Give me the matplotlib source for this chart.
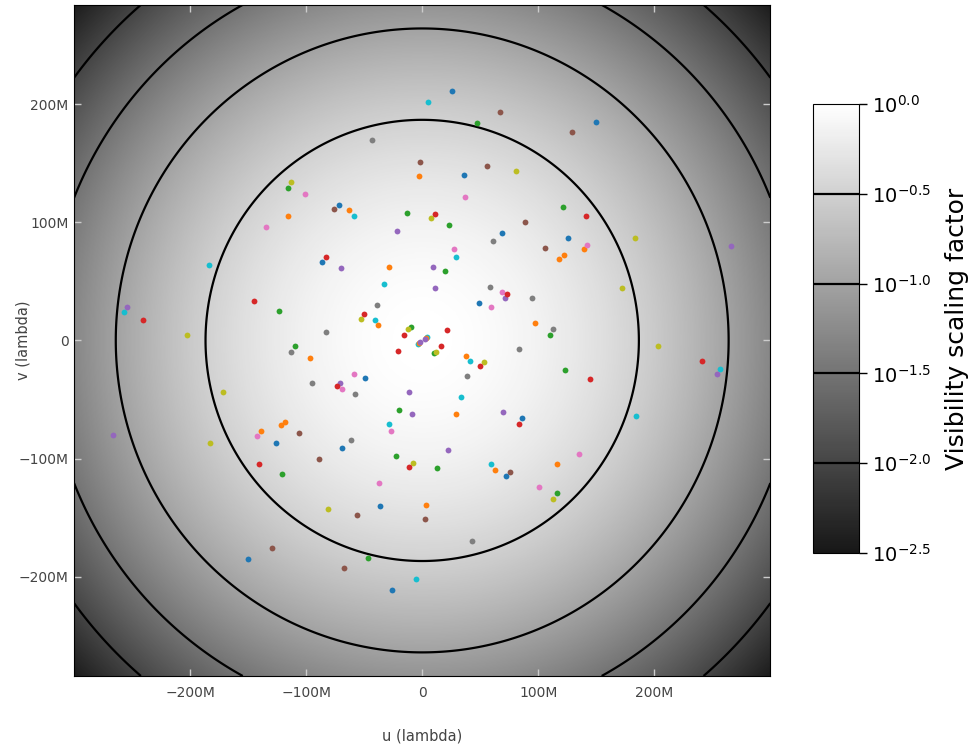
import numpy as np
import matplotlib.pyplot as plt
from matplotlib.colors import LinearSegmentedColormap
from matplotlib.ticker import FuncFormatter

# uv samples in millions of wavelengths (half plane, the other half is (-u,-v))
u_half = [26, 5, 67, 47, -43, -2, 56, 81, -3, 36, 150, 129,
          -116, -113, -101, -116, -135, -184, -145, -123, -254, -257, -241, -203,
          37, -72, -76, -63, -59, -13, 11, 8, 23, 89, -22, 69, 61, 27, 29,
          -83, -86, -70, -29, 9, 20, -33, 11, 58, 69, 73, 71, 49, 59, 95, 97,
          -39, -50, -53, -41, -38, -83, -12, -10, -16, 21, 2, 3, 4,
          121, 141, 183, 126, 106, 142, 139, 122, 118, 266, 172, 113, 110]
v_half = [211, 202, 193, 184, 170, 151, 148, 143, 139, 140, 185, 176,
          129, 134, 124, 105, 96, 64, 33, 25, 28, 24, 17, 5,
          121, 115, 111, 110, 105, 108, 107, 104, 98, 100, 93, 91, 84, 77, 71,
          71, 66, 61, 62, 62, 59, 48, 44, 45, 41, 39, 36, 32, 28, 36, 15,
          30, 22, 18, 17, 13, 7, 10, 11, 5, 9, 1, 2, 3,
          113, 105, 87, 87, 78, 81, 77, 72, 69, 80, 44, 10, 5]
c_half = ['blue', 'cyan', 'brown', 'green', 'gray', 'brown', 'brown', 'olive', 'orange', 'blue', 'blue', 'brown',
          'green', 'olive', 'pink', 'orange', 'pink', 'cyan', 'red', 'green', 'purple', 'cyan', 'red', 'olive',
          'pink', 'blue', 'brown', 'orange', 'cyan', 'green', 'red', 'olive', 'green', 'brown', 'purple', 'blue', 'gray', 'pink', 'cyan',
          'red', 'blue', 'purple', 'orange', 'purple', 'green', 'cyan', 'purple', 'gray', 'pink', 'red', 'purple', 'blue', 'pink', 'gray', 'orange',
          'gray', 'red', 'olive', 'cyan', 'orange', 'gray', 'olive', 'green', 'red', 'red', 'purple', 'orange', 'cyan',
          'green', 'red', 'olive', 'blue', 'brown', 'pink', 'orange', 'orange', 'orange', 'purple', 'olive', 'gray', 'green']

taper_width = 174            # M lambda, exp(-(r/w)^2)
levels = [-2.0, -1.5, -1.0, -0.5]
cbar_ticks = [-2.5, -2.0, -1.5, -1.0, -0.5, 0.0]
u_lim = (-300, 300)
v_lim = (-284, 284)

u_all = np.array(u_half + [-x for x in u_half])
v_all = np.array(v_half + [-x for x in v_half])
c_all = c_half + c_half

fig = plt.figure(figsize=(9.78, 7.49), dpi=100)
ax = fig.add_axes([0.0757, 0.0975, 0.712, 0.896])
cax = fig.add_axes([0.831, 0.2617, 0.047, 0.5995])

gu = np.linspace(u_lim[0], u_lim[1], 600)
gv = np.linspace(v_lim[0], v_lim[1], 600)
U, V = np.meshgrid(gu, gv)
logvis = -((U**2 + V**2) / taper_width**2) / np.log(10)

cmap = LinearSegmentedColormap.from_list('grey', [(0.09, 0.09, 0.09), (1, 1, 1)])
im = ax.imshow(logvis, extent=[u_lim[0], u_lim[1], v_lim[0], v_lim[1]], origin='lower',
               cmap=cmap, vmin=-2.5, vmax=0, aspect='auto', interpolation='bilinear')
cs = ax.contour(U, V, logvis, levels=levels, colors='k', linewidths=1.6, linestyles='solid')

for key in sorted(set(c_all)):
    idx = [i for i, c in enumerate(c_all) if c == key]
    ax.plot(u_all[idx], v_all[idx], 'o', color='tab:' + key, ms=4.2, mew=0)

ax.set_xlim(u_lim)
ax.set_ylim(v_lim)
ax.set_xticks([-200, -100, 0, 100, 200])
ax.set_yticks([-200, -100, 0, 100, 200])
fmt = FuncFormatter(lambda x, p: '0' if x == 0 else ('%dM' % x).replace('-', '\u2212'))
ax.xaxis.set_major_formatter(fmt)
ax.yaxis.set_major_formatter(fmt)
ax.tick_params(direction='in', length=5, width=1, color='#cccccc', top=True, right=True,
               labelsize=10, labelcolor='#444444')
ax.tick_params(axis='x', pad=7)
ax.tick_params(axis='y', pad=4)
ax.set_xlabel('u (lambda)', fontsize=10.5, color='#444444')
ax.set_ylabel('v (lambda)', fontsize=10.5, color='#444444')
ax.xaxis.set_label_coords(0.5, -0.079)
ax.yaxis.set_label_coords(-0.063, 0.5)

cbar = fig.colorbar(im, cax=cax, ticks=cbar_ticks)
cbar.add_lines(cs)
cbar.ax.set_yticklabels([r'$10^{%.1f}$' % t for t in cbar_ticks])
cbar.ax.tick_params(labelsize=14, length=6, width=1)
cbar.set_label('Visibility scaling factor', fontsize=18, labelpad=10)

fig.savefig('out.png', dpi=100)
